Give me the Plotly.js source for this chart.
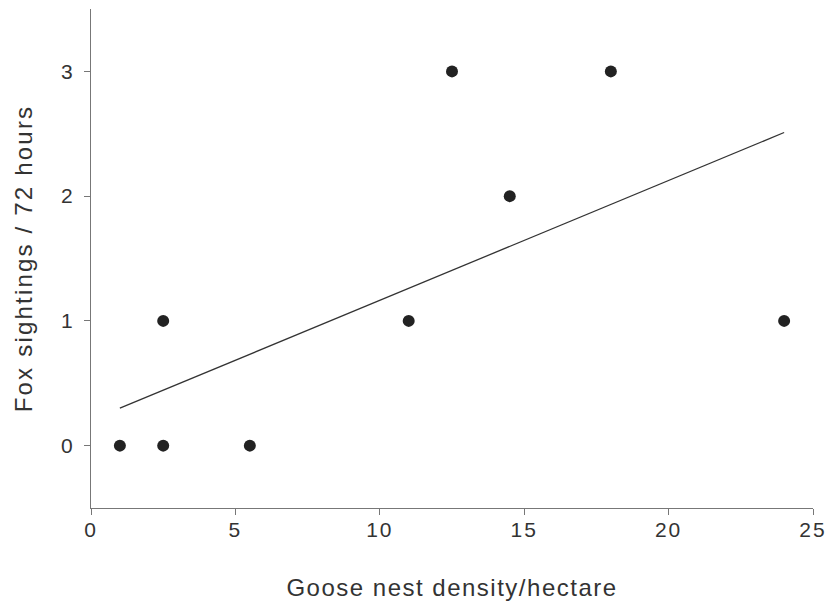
<!DOCTYPE html>
<html>
<head>
<meta charset="utf-8">
<script src="https://cdn.plot.ly/plotly-3.0.1.min.js"></script>
<style>
html,body{margin:0;padding:0;background:#fff;}
#chart{width:831px;height:609px;}
#chart .xtick text, #chart .ytick text{letter-spacing:2px;}
#chart .xtitle{letter-spacing:1.5px;}
#chart .ytitle{letter-spacing:2.2px;}
</style>
</head>
<body>
<div id="chart"></div>
<script>
// Observed data points
const nestDensity = [1, 2.5, 2.5, 5.5, 11, 12.5, 14.5, 18, 24];
const foxSightings = [0, 0, 1, 0, 1, 3, 2, 3, 1];
// Fitted line end points as drawn
const lineX = [1, 24];
const lineY = [0.3, 2.51];
const xTicks = [0, 5, 10, 15, 20, 25];
const yTicks = [0, 1, 2, 3];

const fontFam = '"Liberation Sans", Arial, Helvetica, sans-serif';
const txtCol = '#333333';

const traces = [
  {x: lineX, y: lineY, mode: 'lines', type: 'scatter', line: {color: '#333', width: 1.3}, hoverinfo: 'skip', showlegend: false},
  {x: nestDensity, y: foxSightings, mode: 'markers', type: 'scatter', marker: {color: '#222', size: 12}, showlegend: false}
];

const axisCommon = {
  showgrid: false, zeroline: false, showline: true, linecolor: '#777', linewidth: 1,
  ticks: 'outside', ticklen: 6, tickcolor: '#777', tickwidth: 1,
  tickfont: {family: fontFam, size: 21, color: txtCol}, fixedrange: true
};

const layout = {
  width: 831, height: 609,
  margin: {l: 91, r: 18, t: 9, b: 101},
  paper_bgcolor: '#fff', plot_bgcolor: '#fff',
  xaxis: Object.assign({}, axisCommon, {
    range: [0, 25], tickvals: xTicks, ticktext: xTicks.map(String),
    ticklabelstandoff: -3,
    title: {text: 'Goose nest density/hectare', font: {family: fontFam, size: 24, color: txtCol}, standoff: 38}
  }),
  yaxis: Object.assign({}, axisCommon, {
    range: [-0.5, 3.5], tickvals: yTicks, ticktext: yTicks.map(String),
    ticklabelstandoff: 5,
    title: {text: 'Fox sightings / 72 hours', font: {family: fontFam, size: 24, color: txtCol}, standoff: 23}
  })
};

Plotly.newPlot('chart', traces, layout, {displayModeBar: false, staticPlot: true});
</script>
</body>
</html>
